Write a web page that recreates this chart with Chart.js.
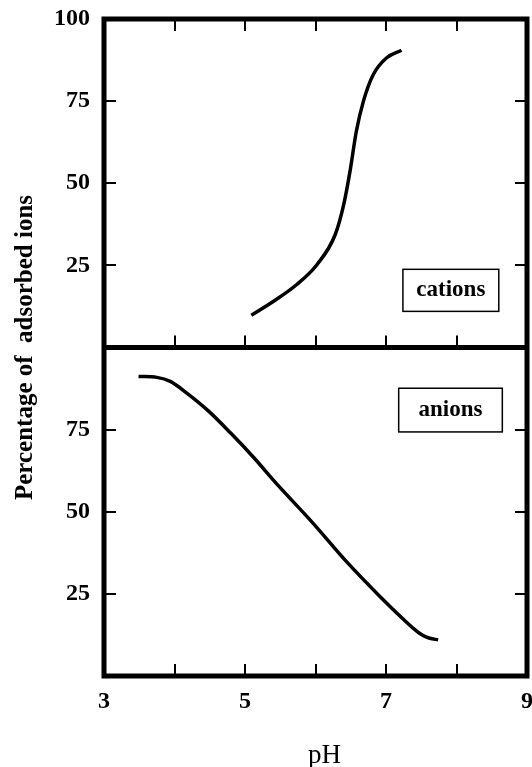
<!DOCTYPE html>
<html>
<head>
<meta charset="utf-8">
<script src="https://cdn.jsdelivr.net/npm/chart.js@4"></script>
<style>
    html, body { margin: 0; padding: 0; background: #fff; }
    #wrap { width: 532px; height: 767px; }
</style>
</head>
<body>
<div id="wrap"><canvas id="phChart" width="532" height="767"></canvas></div>
<script>
// tick labels
const xTickLabels = [3, 5, 7, 9];
const topTickLabels = [25, 50, 75, 100];
const bottomTickLabels = [25, 50, 75];

// cations (upper panel)
const cationPH  = [5.09, 5.40, 5.73, 6.02, 6.28, 6.40, 6.49, 6.58, 6.68, 6.82, 7.01, 7.22];
const cationPct = [9.8, 14.0, 19.1, 25.2, 34.4, 43.5, 53.7, 65.9, 75.0, 83.1, 88.2, 90.5];

// anions (lower panel)
const anionPH  = [3.49, 3.75, 3.94, 4.17, 4.48, 4.79, 5.12, 5.45, 5.97, 6.44, 6.91, 7.25, 7.40, 7.52, 7.62, 7.74];
const anionPct = [91.2, 90.9, 89.7, 86.2, 80.7, 74.1, 66.6, 58.5, 46.4, 34.8, 24.3, 17.2, 14.3, 12.4, 11.5, 11.0];

const serif = "'Liberation Serif', 'DejaVu Serif', serif";

const toPoints = (xs, ys) => xs.map((x, i) => ({ x: x, y: ys[i] }));

// label boxes, in data units of their panel
const labelBoxes = [
    { text: 'cations', axis: 'yTop', x0: 7.24, x1: 8.60, y0: 11.0, y1: 23.8 },
    { text: 'anions',  axis: 'yBot', x0: 7.18, x1: 8.65, y0: 74.3, y1: 87.6 }
];

const framePlugin = {
    id: 'frame',
    afterDatasetsDraw(chart) {
        const ctx = chart.ctx;
        const x = chart.scales.x;
        const top = chart.scales.yTop;
        const bot = chart.scales.yBot;
        const tick = 12;

        const line = (x1, y1, x2, y2) => {
            ctx.beginPath();
            ctx.moveTo(x1, y1);
            ctx.lineTo(x2, y2);
            ctx.stroke();
        };

        ctx.save();
        ctx.strokeStyle = '#000';
        ctx.fillStyle = '#000';

        // inward ticks
        ctx.lineWidth = 2;
        [top, bot].forEach(s => {
            s.ticks.forEach(t => {
                if (t.value <= s.min || t.value >= s.max) return;
                const py = Math.round(s.getPixelForValue(t.value));
                line(x.left, py, x.left + tick, py);
                line(x.right - tick, py, x.right, py);
            });
        });
        x.ticks.forEach(t => {
            if (t.value <= x.min || t.value >= x.max) return;
            const px = Math.round(x.getPixelForValue(t.value));
            line(px, top.top, px, top.top + tick);
            line(px, top.bottom, px, top.bottom - tick);
            line(px, bot.bottom, px, bot.bottom - tick);
        });

        // heavy frame + divider
        ctx.lineWidth = 5;
        ctx.strokeRect(x.left, top.top, x.right - x.left, bot.bottom - top.top);
        line(x.left, top.bottom, x.right, top.bottom);

        // label boxes
        ctx.lineWidth = 1.5;
        ctx.font = 'bold 23px ' + serif;
        ctx.textAlign = 'center';
        ctx.textBaseline = 'middle';
        labelBoxes.forEach(b => {
            const s = chart.scales[b.axis];
            const l = x.getPixelForValue(b.x0), r = x.getPixelForValue(b.x1);
            const tp = s.getPixelForValue(b.y1), bt = s.getPixelForValue(b.y0);
            ctx.strokeRect(l, tp, r - l, bt - tp);
            ctx.fillText(b.text, (l + r) / 2, (tp + bt) / 2);
        });

        // y title
        ctx.save();
        ctx.translate(26, (top.top + bot.bottom) / 2);
        ctx.rotate(-Math.PI / 2);
        ctx.font = 'bold 25px ' + serif;
        ctx.fillText('Percentage of  adsorbed ions', 0, 0);
        ctx.restore();

        // x title
        ctx.font = '27px ' + serif;
        ctx.textBaseline = 'alphabetic';
        ctx.fillText('pH', (x.left + x.right) / 2 + 9, 763);

        ctx.restore();
    }
};

const tickFont = { family: serif, size: 24, weight: 'bold' };

// keep edge labels from shrinking the plot area
const noEdgePad = s => {
    s.paddingLeft = 0;
    s.paddingRight = 0;
    s.paddingTop = 0;
    s.paddingBottom = 0;
};

const phChart = new Chart(document.getElementById('phChart').getContext('2d'), {
    type: 'line',
    data: {
        datasets: [{
            label: 'cations',
            data: toPoints(cationPH, cationPct),
            yAxisID: 'yTop',
            borderColor: '#000',
            borderWidth: 3.5,
            pointRadius: 0,
            cubicInterpolationMode: 'monotone',
            fill: false
        }, {
            label: 'anions',
            data: toPoints(anionPH, anionPct),
            yAxisID: 'yBot',
            borderColor: '#000',
            borderWidth: 3.5,
            pointRadius: 0,
            cubicInterpolationMode: 'monotone',
            fill: false
        }]
    },
    options: {
        responsive: false,
        animation: false,
        layout: { padding: { top: 19, right: 5, left: 0, bottom: 0 } },
        plugins: {
            legend: { display: false },
            tooltip: { enabled: false }
        },
        scales: {
            x: {
                type: 'linear',
                min: 3,
                max: 9,
                grid: { display: false, drawTicks: false },
                border: { display: false },
                ticks: {
                    stepSize: 1,
                    padding: 11,
                    color: '#000',
                    font: tickFont,
                    maxRotation: 0,
                    autoSkip: false,
                    callback: v => xTickLabels.includes(v) ? String(v) : ''
                },
                afterFit: s => { s.height = 91; noEdgePad(s); }
            },
            yBot: {
                type: 'linear',
                position: 'left',
                stack: 'ph',
                stackWeight: 1,
                min: 0,
                max: 100,
                grid: { display: false, drawTicks: false },
                border: { display: false },
                ticks: {
                    stepSize: 25,
                    padding: 14,
                    color: '#000',
                    font: tickFont,
                    callback: v => bottomTickLabels.includes(v) ? String(v) : ''
                },
                afterFit: s => { s.width = 104; noEdgePad(s); }
            },
            yTop: {
                type: 'linear',
                position: 'left',
                stack: 'ph',
                stackWeight: 1,
                min: 0,
                max: 100,
                grid: { display: false, drawTicks: false },
                border: { display: false },
                ticks: {
                    stepSize: 25,
                    padding: 14,
                    color: '#000',
                    font: tickFont,
                    callback: v => topTickLabels.includes(v) ? String(v) : ''
                },
                afterFit: s => { s.width = 104; noEdgePad(s); }
            }
        }
    },
    plugins: [framePlugin]
});
</script>
</body>
</html>
